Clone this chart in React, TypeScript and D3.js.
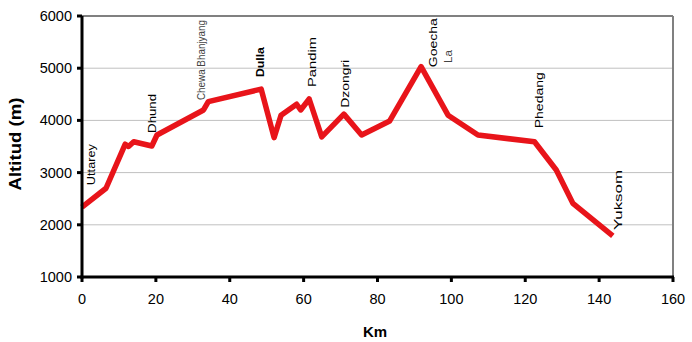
import React from "react";
import { scaleLinear, line } from "d3";

// route profile: distance (km) and altitude (m)
const km = [0, 6.5, 11.7, 12.6, 14, 18.9, 20.3, 32.9, 34.2, 48.5, 52, 53.9, 58.1, 59.2, 61.5, 64.9, 70.9, 75.7, 83.3, 91.8, 99.1, 107.2, 122.5, 128.4, 132.9, 143.7];
const alt = [2340, 2700, 3545, 3500, 3590, 3510, 3720, 4200, 4360, 4600, 3670, 4100, 4310, 4200, 4410, 3685, 4120, 3720, 3990, 5030, 4100, 3720, 3590, 3050, 2410, 1790];

// place names along the route
const placeNames = ["Uttarey", "Dhund", "Chewa Bhanjyang", "Dulla", "Pandim", "Dzongri", "Goecha", "La", "Phedang", "Yuksom"];
const placeKm = [2.5, 19.2, 32.3, 48.2, 62.5, 71.4, 95.2, 99.3, 123.9, 145.2];
const placeAlt = [2760, 3760, 4390, 4830, 4640, 4240, 5020, 5100, 3850, 1900];
const placeLen = [41, 39, 80, 30, 50, 48, 49, 13, 56, 60];

const xTicks = [0, 20, 40, 60, 80, 100, 120, 140, 160];
const yTicks = [1000, 2000, 3000, 4000, 5000, 6000];

export default function App() {
  const width = 692;
  const height = 342;
  const margin = { top: 16, right: 19, bottom: 65, left: 82 };
  const innerWidth = width - margin.left - margin.right;
  const innerHeight = height - margin.top - margin.bottom;

  const xScale = scaleLinear().domain([0, 160]).range([0, innerWidth]);
  const yScale = scaleLinear().domain([1000, 6000]).range([innerHeight, 0]);

  const path = line<number>()
    .x((d, i) => xScale(km[i]))
    .y((d) => yScale(d));

  const font = "Arial, 'Liberation Sans', sans-serif";

  return (
    <svg
      width={width}
      height={height}
      style={{ position: "absolute", left: 0, top: 0, background: "#fff" }}
      fontFamily={font}
    >
      <g transform={`translate(${margin.left},${margin.top})`}>
        {yTicks.map((t) => (
          <line key={t} x1={0} x2={innerWidth} y1={yScale(t)} y2={yScale(t)} stroke="#c0c0c0" strokeWidth={1} />
        ))}
        {/* top and right frame */}
        <line x1={0} x2={innerWidth} y1={0} y2={0} stroke="#808080" strokeWidth={2} />
        <line x1={innerWidth} x2={innerWidth} y1={0} y2={innerHeight} stroke="#808080" strokeWidth={2} />

        {/* place labels */}
        {placeNames.map((name, i) => (
          <text
            key={name}
            transform={`translate(${xScale(placeKm[i])},${yScale(placeAlt[i])}) rotate(-90)`}
            dy="0.35em"
            fontSize={name === "Dulla" ? 11 : 10}
            fontWeight={name === "Dulla" ? "bold" : "normal"}
            fill={name === "Chewa Bhanjyang" || name === "La" ? "#444" : "#000"}
            textLength={placeLen[i]}
            lengthAdjust="spacingAndGlyphs"
          >
            {name}
          </text>
        ))}

        <path d={path(alt) || ""} fill="none" stroke="#e8141a" strokeWidth={5.5} strokeLinejoin="round" />

        {/* axes */}
        <line x1={0} x2={0} y1={0} y2={innerHeight + 1.5} stroke="#000" strokeWidth={3} />
        <line x1={-1.5} x2={innerWidth + 1} y1={innerHeight} y2={innerHeight} stroke="#000" strokeWidth={3} />
        {yTicks.map((t) => (
          <g key={t} transform={`translate(0,${yScale(t)})`}>
            <line x1={-5} x2={0} stroke="#000" strokeWidth={3} />
            <text x={-10} dy="0.35em" textAnchor="end" fontSize={14.5}>
              {t}
            </text>
          </g>
        ))}
        {xTicks.map((t) => (
          <g key={t} transform={`translate(${xScale(t)},${innerHeight})`}>
            <line y1={0} y2={5} stroke="#000" strokeWidth={3} />
            <text y={22} dy="0.35em" textAnchor="middle" fontSize={14.5}>
              {t}
            </text>
          </g>
        ))}
      </g>
      <text x={375} y={337} textAnchor="middle" fontSize={15} fontWeight="bold">
        Km
      </text>
      <text
        transform={`translate(15,144) rotate(-90)`}
        dy="0.35em"
        textAnchor="middle"
        fontSize={16}
        fontWeight="bold"
        textLength={93}
        lengthAdjust="spacingAndGlyphs"
      >
        Altitud (m)
      </text>
    </svg>
  );
}
